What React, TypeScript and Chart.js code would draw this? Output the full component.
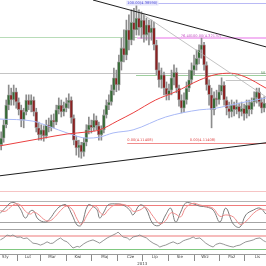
import React, { useEffect, useRef } from 'react';
import { Chart, registerables } from 'chart.js';

Chart.register(...registerables);

// ---------- price bars (EUR/PLN 2013), one bar every 3 calendar days ----------
const firstDay = 13; // day-of-year of the first bar
const barStep = 3;

const open = [4.111, 4.124, 4.150, 4.188, 4.208, 4.198, 4.214, 4.194, 4.179, 4.159, 4.175, 4.198, 4.188, 4.198, 4.175, 4.144, 4.130, 4.140, 4.128, 4.150, 4.144, 4.159, 4.155, 4.179, 4.188, 4.175, 4.182, 4.192, 4.198, 4.163, 4.120, 4.105, 4.111, 4.097, 4.116, 4.140, 4.150, 4.144, 4.159, 4.148, 4.130, 4.140, 4.169, 4.188, 4.194, 4.217, 4.241, 4.227, 4.272, 4.299, 4.285, 4.334, 4.314, 4.349, 4.334, 4.357, 4.338, 4.353, 4.324, 4.344, 4.328, 4.338, 4.305, 4.256, 4.237, 4.247, 4.221, 4.208, 4.217, 4.241, 4.252, 4.221, 4.198, 4.182, 4.198, 4.221, 4.237, 4.256, 4.266, 4.279, 4.295, 4.305, 4.266, 4.227, 4.208, 4.179, 4.202, 4.198, 4.214, 4.227, 4.198, 4.182, 4.175, 4.188, 4.179, 4.186, 4.175, 4.182, 4.171, 4.188, 4.179, 4.194, 4.202, 4.214, 4.194, 4.182];
const high = [4.136, 4.159, 4.198, 4.227, 4.221, 4.227, 4.221, 4.202, 4.188, 4.182, 4.208, 4.208, 4.208, 4.204, 4.182, 4.155, 4.150, 4.148, 4.159, 4.163, 4.169, 4.171, 4.188, 4.202, 4.198, 4.194, 4.202, 4.210, 4.204, 4.169, 4.128, 4.120, 4.116, 4.124, 4.150, 4.165, 4.159, 4.171, 4.167, 4.155, 4.148, 4.179, 4.198, 4.208, 4.227, 4.260, 4.256, 4.285, 4.318, 4.334, 4.353, 4.363, 4.373, 4.376, 4.386, 4.373, 4.369, 4.363, 4.357, 4.353, 4.353, 4.349, 4.314, 4.270, 4.260, 4.252, 4.233, 4.229, 4.256, 4.266, 4.260, 4.227, 4.208, 4.212, 4.233, 4.256, 4.270, 4.285, 4.295, 4.305, 4.318, 4.310, 4.272, 4.237, 4.221, 4.214, 4.217, 4.227, 4.241, 4.233, 4.204, 4.194, 4.198, 4.194, 4.198, 4.192, 4.194, 4.190, 4.198, 4.198, 4.202, 4.214, 4.221, 4.221, 4.202, 4.204];
const low = [4.101, 4.116, 4.144, 4.179, 4.188, 4.188, 4.182, 4.169, 4.146, 4.144, 4.169, 4.179, 4.175, 4.167, 4.136, 4.120, 4.120, 4.118, 4.124, 4.136, 4.138, 4.144, 4.150, 4.171, 4.165, 4.167, 4.175, 4.182, 4.153, 4.111, 4.091, 4.087, 4.085, 4.089, 4.109, 4.132, 4.134, 4.138, 4.140, 4.120, 4.120, 4.134, 4.163, 4.179, 4.188, 4.208, 4.214, 4.217, 4.256, 4.272, 4.276, 4.295, 4.305, 4.314, 4.324, 4.324, 4.318, 4.310, 4.314, 4.305, 4.314, 4.295, 4.247, 4.223, 4.221, 4.208, 4.198, 4.198, 4.208, 4.227, 4.212, 4.186, 4.173, 4.175, 4.190, 4.214, 4.229, 4.247, 4.256, 4.268, 4.279, 4.256, 4.217, 4.188, 4.144, 4.169, 4.186, 4.190, 4.208, 4.188, 4.169, 4.163, 4.165, 4.167, 4.171, 4.163, 4.167, 4.159, 4.163, 4.167, 4.171, 4.186, 4.192, 4.186, 4.173, 4.175];
const close = [4.124, 4.150, 4.188, 4.208, 4.198, 4.214, 4.194, 4.179, 4.159, 4.175, 4.198, 4.188, 4.198, 4.175, 4.144, 4.130, 4.140, 4.128, 4.150, 4.144, 4.159, 4.155, 4.179, 4.188, 4.175, 4.182, 4.192, 4.198, 4.163, 4.120, 4.105, 4.111, 4.097, 4.116, 4.140, 4.150, 4.144, 4.159, 4.148, 4.130, 4.140, 4.169, 4.188, 4.194, 4.217, 4.241, 4.227, 4.272, 4.299, 4.285, 4.334, 4.314, 4.349, 4.334, 4.357, 4.338, 4.353, 4.324, 4.344, 4.328, 4.338, 4.305, 4.256, 4.237, 4.247, 4.221, 4.208, 4.217, 4.241, 4.252, 4.221, 4.198, 4.182, 4.198, 4.221, 4.237, 4.256, 4.266, 4.279, 4.295, 4.305, 4.266, 4.227, 4.208, 4.179, 4.202, 4.198, 4.214, 4.227, 4.198, 4.182, 4.175, 4.188, 4.179, 4.186, 4.175, 4.182, 4.171, 4.188, 4.179, 4.194, 4.202, 4.214, 4.194, 4.182, 4.192];

// ---------- moving averages ----------
const maBlueDays = [11.6, 51, 71.5, 92, 116, 131, 147, 171, 210, 251, 267, 287, 311, 330.2];
const maBlue = [4.161, 4.157, 4.146, 4.134, 4.124, 4.126, 4.134, 4.140, 4.165, 4.179, 4.181, 4.188, 4.196, 4.202];
const maRedDays = [11.6, 35.6, 63, 92, 116, 131, 152, 171, 198, 222, 251, 269, 287, 305, 330.2];
const maRed = [4.109, 4.116, 4.124, 4.132, 4.136, 4.140, 4.157, 4.173, 4.198, 4.214, 4.237, 4.247, 4.250, 4.243, 4.221];

// ---------- trend lines ----------
const trendTopDays = [123, 330.2];
const trendTop = [4.392, 4.301];
const trendBottomDays = [11.6, 330.2];
const trendBottom = [4.051, 4.115];
const trendThinDays = [174.5, 330.2];
const trendThin = [4.373, 4.204];

// ---------- horizontal levels ----------
const fibLevels = [4.386, 4.320, 4.318, 4.250, 4.246, 4.237, 4.115, 4.021];
const fibStartDays = [164, 11.6, 176, 11.6, 174.5, 282, 164, 11.6];
const stochLevels = [92.4, 80, 20, -4.7];
const rsiLevels = [70, 30];

// ---------- on-chart labels ----------
const noteTexts = ['100.00(4.38590)', '76.40', '100.00(4.32170)', '50.0', '0.00(4.11408)', '0.00(4.11408)'];
const noteDays = [164, 228, 240, 324, 164, 239];
const noteValues = [4.386, 4.318, 4.318, 4.246, 4.115, 4.115];

// ---------- stochastic ----------
const stochDays = [12, 18, 24, 30, 36, 42, 48, 52, 57, 66, 72, 78, 84, 91, 98, 104, 109, 117, 124, 128, 131, 136, 141, 149, 159, 167, 171, 179, 186, 195, 203, 210, 216, 222, 228, 234, 243, 251, 259, 267, 275, 282, 291, 299, 306, 315, 323, 330];
const stochK = [52, 69, 87, 87, 66, 34, 59, 59, 31, 20, 34, 59, 76, 80, 45, 9, 9, 80, 73, 62, 34, 55, 80, 84, 80, 62, 45, 80, 69, 13, 9, 45, 69, 20, 55, 87, 84, 76, 73, 62, 20, 69, 13, 2, 45, 62, 69, 48];
const stochD = [60, 58, 72, 84, 80, 58, 48, 55, 48, 26, 25, 40, 60, 76, 65, 30, 12, 50, 76, 72, 55, 45, 62, 80, 82, 72, 58, 62, 72, 40, 14, 25, 52, 48, 38, 70, 86, 80, 75, 68, 40, 45, 38, 12, 22, 50, 65, 62];

// ---------- RSI ----------
const rsiDays = [12, 16, 20, 24, 27, 32, 36, 40, 44, 48, 51, 56, 60, 64, 68, 72, 75, 80, 84, 88, 92, 95, 99, 104, 107, 112, 116, 119, 123, 128, 131, 136, 140, 143, 147, 151, 153, 157, 159, 164, 167, 171, 176, 179, 183, 187, 191, 195, 200, 203, 207, 210, 215, 219, 224, 227, 231, 234, 239, 243, 246, 251, 255, 258, 263, 267, 270, 275, 279, 282, 287, 291, 295, 299, 303, 306, 311, 315, 318, 323, 327, 330];
const rsiVals = [58, 64, 73, 70, 73, 66, 67, 62, 64, 55, 48, 46, 42, 46, 52, 47, 48, 58, 64, 56, 52, 44, 33, 38, 36, 46, 52, 55, 58, 52, 48, 57, 64, 68, 73, 78, 82, 72, 67, 64, 58, 67, 70, 73, 68, 64, 55, 48, 42, 36, 40, 42, 48, 52, 46, 48, 55, 58, 62, 67, 62, 64, 55, 48, 40, 36, 44, 48, 45, 42, 38, 36, 40, 42, 48, 52, 55, 58, 62, 64, 56, 52];

// ---------- axis ----------
const monthNames = ['Sty', 'Lut', 'Mar', 'Kwi', 'Maj', 'Cze', 'Lip', 'Sie', 'Wrz', 'Paź', 'Lis'];
const monthMidDays = [18, 45, 74, 105, 137, 168, 197, 227, 257, 289, 320];
const monthStartDays = [32, 60, 91, 121, 152, 182, 213, 244, 274, 305];
const yearLabel = '2013';
const yearLabelDay = 182;

const FONT = '"DejaVu Sans", sans-serif';

const fibStyles = [
  { color: '#b9b9f5', width: 1 },
  { color: '#b8dcb8', width: 1 },
  { color: '#f3b8f3', width: 2 },
  { color: '#c4c4c4', width: 1 },
  { color: '#9fcf9f', width: 1 },
  { color: '#c6c6c6', width: 1 },
  { color: '#f08c8c', width: 1 },
  { color: '#f6c4c4', width: 1 },
];
const stochStyles = [
  { color: '#b4b4b4', width: 1 },
  { color: '#f07c7c', width: 1 },
  { color: '#a4a4a4', width: 1 },
  { color: '#a4a4a4', width: 1 },
];
const rsiStyles = [
  { color: '#f6bcbc', width: 2 },
  { color: '#80c880', width: 1 },
];
const noteStyles = [
  { color: '#4848d8', bg: '#e8e8fc', pos: 'mid' },
  { color: '#c050c0', bg: '', pos: 'above' },
  { color: '#c050c0', bg: '', pos: 'above' },
  { color: '#4f8f4f', bg: '', pos: 'above' },
  { color: '#e04848', bg: '', pos: 'above' },
  { color: '#e04848', bg: '', pos: 'above' },
];

const overlayPlugin = {
  id: 'overlay',
  beforeDatasetsDraw(chart: any) {
    const { ctx, chartArea, scales } = chart;
    ctx.save();
    ctx.beginPath();
    ctx.rect(chartArea.left, chartArea.top, chartArea.width, chartArea.height);
    ctx.clip();
    const drawLevel = (axis: any, v: number, fromDay: number, st: any) => {
      let y = Math.round(axis.getPixelForValue(v));
      if (st.width % 2 === 1) y += 0.5;
      const x0 = scales.x.getPixelForValue(fromDay);
      ctx.strokeStyle = st.color;
      ctx.lineWidth = st.width;
      ctx.beginPath();
      ctx.moveTo(Math.max(x0, chartArea.left), y);
      ctx.lineTo(chartArea.right, y);
      ctx.stroke();
    };
    fibLevels.forEach((v, i) => drawLevel(scales.y, v, fibStartDays[i], fibStyles[i]));
    stochLevels.forEach((v, i) => drawLevel(scales.yS, v, scales.x.min, stochStyles[i]));
    rsiLevels.forEach((v, i) => drawLevel(scales.yR, v, scales.x.min, rsiStyles[i]));
    ctx.restore();
  },
  afterDatasetsDraw(chart: any) {
    const { ctx, scales } = chart;
    ctx.save();
    ctx.font = `3.6px ${FONT}`;
    ctx.textAlign = 'left';
    noteTexts.forEach((t, i) => {
      const st = noteStyles[i];
      const x = scales.x.getPixelForValue(noteDays[i]);
      const y = scales.y.getPixelForValue(noteValues[i]);
      const w = ctx.measureText(t).width;
      if (st.bg) {
        ctx.fillStyle = st.bg;
        ctx.fillRect(x - 1, y - 2.5, w + 2, 5);
      }
      ctx.fillStyle = st.color;
      if (st.pos === 'mid') {
        ctx.textBaseline = 'middle';
        ctx.fillText(t, x, y);
      } else {
        ctx.textBaseline = 'bottom';
        ctx.fillText(t, x, y - 0.5);
      }
    });
    ctx.restore();
  },
  afterDraw(chart: any) {
    const { ctx, scales, chartArea } = chart;
    ctx.save();
    ctx.font = `4px ${FONT}`;
    ctx.fillStyle = '#444';
    ctx.textAlign = 'center';
    ctx.textBaseline = 'middle';
    ctx.fillText(yearLabel, scales.x.getPixelForValue(yearLabelDay), chartArea.bottom + 10);
    ctx.restore();
  },
};

export default function App() {
  const ref = useRef<HTMLCanvasElement>(null);

  useEffect(() => {
    document.body.style.margin = '0';
    const days = close.map((_, i) => firstDay + barStep * i);
    const wickData = days.map((d, i) => ({ x: d, y: [low[i], high[i]] }));
    const bodyData = days.map((d, i) => ({ x: d, y: [open[i], close[i]] }));
    const bodyColors = close.map((c, i) => (c >= open[i] ? '#356b35' : '#8b2222'));
    const pts = (xs: number[], ys: number[]) => xs.map((x, i) => ({ x, y: ys[i] }));

    const tickValues = [...monthStartDays, ...monthMidDays].sort((a, b) => a - b);
    const labelFor = (v: number) => {
      const k = monthMidDays.indexOf(v);
      return k >= 0 ? monthNames[k] : '';
    };

    const lineBase = { type: 'line', pointRadius: 0, borderWidth: 1, fill: false };

    const chart = new Chart(ref.current as HTMLCanvasElement, {
      type: 'bar',
      data: {
        datasets: [
          { ...lineBase, data: pts(trendTopDays, trendTop), borderColor: '#1e1e1e', yAxisID: 'y', order: 0 },
          { ...lineBase, data: pts(trendBottomDays, trendBottom), borderColor: '#1e1e1e', yAxisID: 'y', order: 0 },
          { ...lineBase, data: pts(trendThinDays, trendThin), borderColor: '#b4b4b4', borderWidth: 0.8, yAxisID: 'y', order: 0 },
          { ...lineBase, data: pts(maRedDays, maRed), borderColor: '#ea4040', tension: 0.4, cubicInterpolationMode: 'monotone', yAxisID: 'y', order: 1 },
          { ...lineBase, data: pts(maBlueDays, maBlue), borderColor: '#a9b9f6', tension: 0.4, cubicInterpolationMode: 'monotone', yAxisID: 'y', order: 1 },
          { type: 'bar', data: bodyData, backgroundColor: bodyColors, borderColor: '#a6a6a6', borderWidth: 0.8, borderSkipped: false, barThickness: 3, minBarLength: 1.5, grouped: false, yAxisID: 'y', order: 2 },
          { type: 'bar', data: wickData, backgroundColor: '#8c8c8c', borderWidth: 0, barThickness: 1, grouped: false, yAxisID: 'y', order: 3 },
          { ...lineBase, data: pts(stochDays, stochD), borderColor: '#f08a8a', tension: 0.4, yAxisID: 'yS', order: 0 },
          { ...lineBase, data: pts(stochDays, stochK), borderColor: '#7a7a7a', tension: 0.4, yAxisID: 'yS', order: 0 },
          { ...lineBase, data: pts(rsiDays, rsiVals), borderColor: '#8a8a8a', borderWidth: 0.9, tension: 0, yAxisID: 'yR', order: 0 },
        ] as any,
      },
      options: {
        animation: false,
        responsive: true,
        maintainAspectRatio: false,
        events: [],
        layout: { padding: { left: 0, right: 0, top: 0, bottom: 0 } },
        plugins: { legend: { display: false }, tooltip: { enabled: false } },
        scales: {
          x: {
            type: 'linear',
            min: 11.6,
            max: 330.2,
            offset: false,
            afterBuildTicks: (scale: any) => {
              scale.ticks = tickValues.map((v) => ({ value: v }));
            },
            afterFit: (scale: any) => {
              scale.height = 12;
            },
            ticks: {
              autoSkip: false,
              maxRotation: 0,
              minRotation: 0,
              padding: -6,
              color: '#444',
              font: { size: 4, family: FONT },
              callback: (v: any) => labelFor(Number(v)),
            },
            grid: {
              offset: false,
              drawOnChartArea: false,
              drawTicks: true,
              tickLength: 7,
              lineWidth: 1,
              color: (c: any) => (c.tick && monthStartDays.includes(c.tick.value) ? '#8c8c8c' : 'rgba(0,0,0,0)'),
            },
            border: { display: true, color: '#9a9a9a', width: 1 },
          },
          y: { type: 'linear', display: false, min: 3.8992, max: 4.392 },
          yS: { type: 'linear', display: false, min: -92.9, max: 803.5 },
          yR: { type: 'linear', display: false, min: 14.6, max: 796.2 },
        },
      } as any,
      plugins: [overlayPlugin],
    });
    return () => chart.destroy();
  }, []);

  return (
    <div style={{ width: 266, height: 266, position: 'relative' }}>
      <canvas ref={ref} />
    </div>
  );
}
